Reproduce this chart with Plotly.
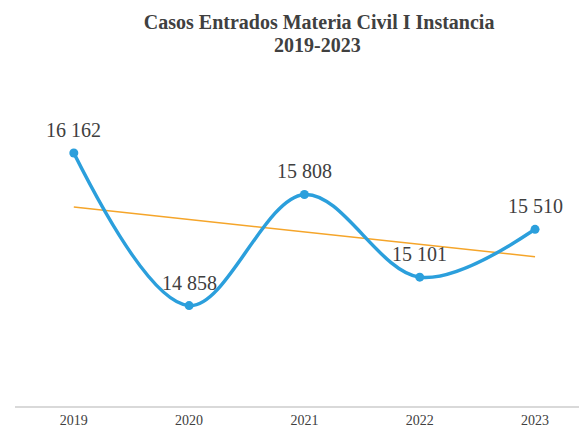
import plotly.graph_objects as go
import numpy as np

years = ["2019", "2020", "2021", "2022", "2023"]
casos = [16162, 14858, 15808, 15101, 15510]

title_line1 = "Casos Entrados Materia Civil I Instancia"
title_line2 = "2019-2023"

x = list(range(len(years)))
coef = np.polyfit(x, casos, 1)
trend = [coef[0] * xi + coef[1] for xi in x]

BLUE = "#2B9FDC"
ORANGE = "#F5A52A"
FONT = "Liberation Serif"

fig = go.Figure()
fig.add_trace(go.Scatter(
    x=x, y=trend, mode="lines",
    line=dict(color=ORANGE, width=1.5),
    hoverinfo="skip", showlegend=False,
))
fig.add_trace(go.Scatter(
    x=x, y=casos, mode="lines+markers",
    line=dict(color=BLUE, width=3.5, shape="spline", smoothing=1.0),
    marker=dict(color=BLUE, size=9),
    showlegend=False,
))

for xi, v in zip(x, casos):
    fig.add_annotation(
        x=xi, y=v, text=f"{v:,}".replace(",", " "),
        showarrow=False, yshift=23,
        font=dict(family=FONT, size=20, color="#404040"),
    )

fig.add_annotation(
    xref="paper", yref="paper", x=0.522, y=1.0285,
    xanchor="center", yanchor="middle", showarrow=False,
    text=f"<b>{title_line2}</b>",
    font=dict(family=FONT, size=20, color="#404040"),
)

fig.update_layout(
    width=587, height=433,
    margin=dict(l=7, r=0, t=47, b=35),
    paper_bgcolor="white", plot_bgcolor="white",
    title=dict(
        text=f"<b>{title_line1}</b>",
        x=0.53, xanchor="center", yref="container", y=0.9677, yanchor="middle",
        font=dict(family=FONT, size=20, color="#404040"),
    ),
    xaxis=dict(
        range=[-0.51, 4.52],
        tickmode="array", tickvals=x, ticktext=years,
        showgrid=False, zeroline=False,
        showline=True, linecolor="#D9D9D9", linewidth=1.5,
        ticks="", tickfont=dict(family=FONT, size=14, color="#404040"),
    ),
    yaxis=dict(
        range=[14000, 17000], visible=False,
        showgrid=False, zeroline=False,
    ),
)

fig.write_html("out.html")
